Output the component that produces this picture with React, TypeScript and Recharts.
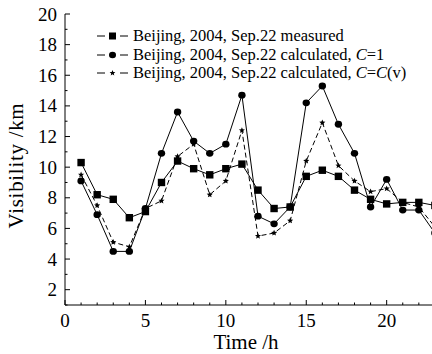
import React from 'react';
import { LineChart, Line, XAxis, YAxis, Label } from 'recharts';

const hours = [1, 2, 3, 4, 5, 6, 7, 8, 9, 10, 11, 12, 13, 14, 15, 16, 17, 18, 19, 20, 21, 22, 23];
const measured = [10.3, 8.2, 7.9, 6.7, 7.1, 9.0, 10.4, 9.9, 9.5, 9.9, 10.2, 8.5, 7.3, 7.4, 9.4, 9.8, 9.4, 8.5, 7.9, 7.6, 7.7, 7.7, 7.5];
const calcC1 = [9.1, 6.9, 4.5, 4.5, 7.3, 10.9, 13.6, 11.7, 10.9, 11.5, 14.7, 6.8, 6.3, 7.4, 14.2, 15.3, 12.8, 10.9, 7.4, 9.2, 7.2, 7.2, 5.7];
const calcCv = [9.5, 7.5, 5.1, 4.8, 7.3, 7.8, 10.7, 11.5, 8.2, 9.1, 12.4, 5.5, 5.7, 6.5, 10.4, 12.9, 10.1, 9.1, 8.4, 8.6, 7.7, 7.4, 6.1];

const xTicks = Array.from({ length: 25 }, (_, i) => i);
const xLabels = [0, 5, 10, 15, 20];
const yTicks = Array.from({ length: 20 }, (_, i) => i + 1);
const yLabels = [2, 4, 6, 8, 10, 12, 14, 16, 18, 20];

const data = hours.map((h, i) => ({ h, m: measured[i], c1: calcC1[i], cv: calcCv[i] }));

const FONT = "'Liberation Serif', 'Times New Roman', serif";

const starPoints = (cx: number, cy: number, r: number) => {
  const pts: string[] = [];
  for (let i = 0; i < 10; i++) {
    const rr = i % 2 === 0 ? r : r * 0.45;
    const a = -Math.PI / 2 + (i * Math.PI) / 5;
    pts.push(`${cx + rr * Math.cos(a)},${cy + rr * Math.sin(a)}`);
  }
  return pts.join(' ');
};

const SquareDot = (p: any) => (
  <rect key={`s${p.index}`} x={p.cx - 3.7} y={p.cy - 3.7} width={7.4} height={7.4} fill="#000" />
);
const CircleDot = (p: any) => (
  <ellipse key={`c${p.index}`} cx={p.cx} cy={p.cy} rx={3.7} ry={3.4} fill="#000" />
);
const StarDot = (p: any) => (
  <polygon key={`t${p.index}`} points={starPoints(p.cx, p.cy, 3.2)} fill="#000" />
);

const XTick = (p: any) => {
  const v = p.payload.value;
  const major = xLabels.includes(v);
  return (
    <g>
      <line x1={p.x} x2={p.x} y1={p.y} y2={p.y - (major ? 5 : 2.5)} stroke="#000" strokeWidth={1} />
      {major && (
        <text x={p.x} y={p.y + 15} textAnchor="middle" dominantBaseline="central" fontFamily={FONT} fontSize={19} fill="#000">
          {v}
        </text>
      )}
    </g>
  );
};

const YTick = (p: any) => {
  const v = p.payload.value;
  const major = yLabels.includes(v);
  return (
    <g>
      <line x1={p.x} x2={p.x + (major ? 5 : 2.5)} y1={p.y} y2={p.y} stroke="#000" strokeWidth={1} />
      {major && (
        <text x={p.x - 8} y={p.y} textAnchor="end" dominantBaseline="central" fontFamily={FONT} fontSize={19} fill="#000">
          {v}
        </text>
      )}
    </g>
  );
};

const YLabel = (props: any) => {
  const vb = props.viewBox || {};
  const x = (vb.x || 0) + 16;
  const y = vb.y + vb.height / 2 + 6;
  return (
    <text x={x} y={y} transform={`rotate(-90 ${x} ${y})`} textAnchor="middle" dominantBaseline="central" fontFamily={FONT} fontSize={21} letterSpacing={0.7} fill="#000">
      Visibility /km
    </text>
  );
};

const XLabel = (props: any) => {
  const vb = props.viewBox || {};
  const x = vb.x + 181;
  const y = vb.y + 37;
  return (
    <text x={x} y={y} textAnchor="middle" dominantBaseline="central" fontFamily={FONT} fontSize={21} fill="#000">
      Time /h
    </text>
  );
};

const legendRows = [
  { key: 'm', marker: 'square', label: <>Beijing, 2004, Sep.22 measured</> },
  { key: 'c1', marker: 'circle', label: <>Beijing, 2004, Sep.22 calculated, <i>C</i>=1</> },
  { key: 'cv', marker: 'star', label: <>Beijing, 2004, Sep.22 calculated, <i>C</i>=<i>C</i>(v)</> },
];

const LegendBox = () => (
  <div style={{ position: 'absolute', left: 97, top: 27, fontFamily: FONT, fontSize: 16.5, color: '#000' }}>
    {legendRows.map((r) => (
      <div key={r.key} style={{ display: 'flex', alignItems: 'center', height: 18.5, whiteSpace: 'nowrap' }}>
        <svg width={31} height={18} style={{ display: 'block' }}>
          <line x1={0} x2={8} y1={9} y2={9} stroke="#000" strokeWidth={1} />
          <line x1={23} x2={31} y1={9} y2={9} stroke="#000" strokeWidth={1} />
          {r.marker === 'square' && <rect x={12} y={5.5} width={7} height={7} fill="#000" />}
          {r.marker === 'circle' && <ellipse cx={15.5} cy={9} rx={3.5} ry={3.2} fill="#000" />}
          {r.marker === 'star' && <polygon points={starPoints(15.5, 9, 3)} fill="#000" />}
        </svg>
        <span style={{ marginLeft: 5, lineHeight: '18.5px' }}>{r.label}</span>
      </div>
    ))}
  </div>
);

export default function App() {
  return (
    <div style={{ position: 'relative', width: 432, height: 354, overflow: 'hidden', background: '#fff' }}>
      <style>{`body{margin:0;}`}</style>
      <LineChart width={452} height={354} data={data} margin={{ top: 14, right: 1, bottom: 0, left: 0 }}>
        <XAxis
          dataKey="h"
          type="number"
          domain={[0, 24]}
          ticks={xTicks}
          interval={0}
          tickSize={0}
          tickMargin={0}
          tickLine={false}
          tick={<XTick />}
          height={49}
          stroke="#000"
        >
          <Label content={<XLabel />} />
        </XAxis>
        <XAxis xAxisId="top" orientation="top" dataKey="h" type="number" domain={[0, 24]} tick={false} tickLine={false} height={0} stroke="#000" />
        <YAxis
          type="number"
          domain={[1, 20]}
          ticks={yTicks}
          interval={0}
          tickSize={0}
          tickMargin={0}
          tickLine={false}
          tick={<YTick />}
          width={65}
          stroke="#000"
        >
          <Label content={<YLabel />} />
        </YAxis>
        <Line dataKey="m" stroke="#000" strokeWidth={1} dot={SquareDot} isAnimationActive={false} />
        <Line dataKey="c1" stroke="#000" strokeWidth={1} dot={CircleDot} isAnimationActive={false} />
        <Line dataKey="cv" stroke="#000" strokeWidth={1} strokeDasharray="5 3" dot={StarDot} isAnimationActive={false} />
      </LineChart>
      <LegendBox />
    </div>
  );
}
